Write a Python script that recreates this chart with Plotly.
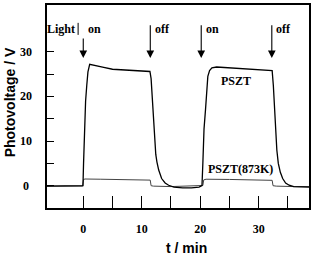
import plotly.graph_objects as go

# ---- data ----
pszt_t = [-6.2, -3.0, -0.05, 0.05, 0.2, 0.4, 0.6, 0.8, 1.1, 2.0, 3.5, 5.0, 8.0, 11.4,
          11.6, 11.8, 12.0, 12.2, 12.4, 12.6, 12.9, 13.4, 14.0, 14.6, 15.5, 17.0, 18.5,
          19.8, 20.3, 20.45, 20.65, 20.9, 21.1, 21.3, 21.6, 22.0, 22.8, 26.0, 30.0, 32.3,
          32.5, 32.7, 32.9, 33.1, 33.35, 33.7, 34.1, 34.6, 35.2, 36.0, 38.6]
pszt_v = [-0.1, -0.1, 0.0, 5.0, 13.0, 19.0, 22.5, 25.5, 27.2, 27.0, 26.5, 26.1, 25.9, 25.6,
          24.0, 20.0, 14.5, 10.0, 7.0, 5.3, 3.5, 1.6, 0.6, 0.1, -0.3, -0.5, -0.5,
          -0.3, 0.0, 5.0, 12.7, 17.0, 21.0, 24.5, 25.8, 26.4, 26.6, 26.3, 26.0, 25.8,
          22.5, 17.5, 12.7, 8.0, 5.0, 3.0, 1.6, 0.6, 0.1, -0.2, -0.3]

k873_t = [-6.2, -0.1, 0.05, 0.3, 3.0, 6.0, 9.0, 11.45, 11.6, 12.0, 15.0, 18.0, 20.45,
          20.6, 21.0, 25.0, 29.0, 32.3, 32.45, 33.0, 36.0, 38.6]
k873_v = [-0.1, -0.1, 1.4, 1.5, 1.45, 1.35, 1.3, 1.25, 0.0, -0.1, -0.2, -0.1, 0.05,
          1.3, 1.45, 1.4, 1.3, 1.2, 0.0, -0.1, -0.2, -0.2]

event_times = [0.0, 11.46, 20.17, 32.24]
event_labels = ["on", "off", "on", "off"]

x_ticks = [0, 5, 10, 15, 20, 25, 30, 35]
x_ticktext = ["0", "", "10", "", "20", "", "30", ""]
y_ticks = [0, 5, 10, 15, 20, 25, 30]
y_label_vals = [0, 10, 20, 30]
y_label_text = ["0", "10", "20", "30"]

SERIF = "Liberation Serif, Times New Roman, serif"
SANS = "Liberation Sans, Arial, sans-serif"
BOLD12 = dict(family=SERIF, size=12, color="black", weight="bold")

fig = go.Figure()
fig.add_trace(go.Scatter(x=k873_t, y=k873_v, mode="lines",
                         line=dict(color="#444444", width=1), showlegend=False))
fig.add_trace(go.Scatter(x=pszt_t, y=pszt_v, mode="lines",
                         line=dict(color="black", width=1.3), showlegend=False))

ann = []
for i, (t, lab) in enumerate(zip(event_times, event_labels)):
    top = 33.3 if i == 0 else 36.3
    ann.append(dict(x=t, y=28.6, ax=t, ay=top, xref="x", yref="y", axref="x", ayref="y",
                    text="", showarrow=True, arrowhead=2, arrowsize=1.4, arrowwidth=1.1,
                    arrowcolor="black"))
    ann.append(dict(x=t + 0.45, y=35.2, xref="x", yref="y", text=lab, showarrow=False,
                    xanchor="left", yanchor="middle", font=BOLD12))
ann.append(dict(x=-1.05, y=35.2, xref="x", yref="y", text="Light", showarrow=False,
                xanchor="right", yanchor="middle", font=BOLD12))
ann.append(dict(x=26.2, y=23.5, xref="x", yref="y", text="PSZT", showarrow=False,
                font=BOLD12))
ann.append(dict(x=26.9, y=3.8, xref="x", yref="y", text="PSZT(873K)", showarrow=False,
                font=BOLD12))
for v, lab in zip(y_label_vals, y_label_text):
    ann.append(dict(x=-0.0796, y=v, xref="paper", yref="y", text=lab, showarrow=False,
                    xanchor="center", yanchor="middle", font=BOLD12))
ann.append(dict(x=0.531, y=-0.195, xref="paper", yref="paper", text="t / min",
                showarrow=False, xanchor="center", yanchor="middle",
                font=dict(family=SANS, size=14, color="black", weight="bold")))
ann.append(dict(x=-0.140, y=0.522, xref="paper", yref="paper", text="Photovoltage / V",
                showarrow=False, xanchor="center", yanchor="middle", textangle=-90,
                font=dict(family=SANS, size=14, color="black", weight="bold")))

fig.update_layout(
    width=314, height=256,
    margin=dict(l=47, r=3, t=3, b=48),
    paper_bgcolor="white", plot_bgcolor="white",
    annotations=ann,
    shapes=[dict(type="line", xref="x", yref="y", x0=-0.88, x1=-0.88, y0=36.5, y1=33.8,
                 line=dict(color="black", width=1))],
    xaxis=dict(range=[-6.2, 38.6], tickvals=x_ticks, ticktext=x_ticktext,
               ticks="inside", ticklen=12, tickwidth=1.2, tickcolor="black",
               showline=True, linecolor="black", linewidth=1.5, mirror=True,
               showgrid=False, zeroline=False, ticklabelstandoff=9,
               tickfont=BOLD12),
    yaxis=dict(range=[-5, 40.5], tickvals=y_ticks, showticklabels=False,
               ticks="inside", ticklen=7, tickwidth=1.2, tickcolor="black",
               showline=True, linecolor="black", linewidth=1.5, mirror=True,
               showgrid=False, zeroline=False),
)

fig.write_html("out.html", config={"displayModeBar": False},
               post_script="document.body.style.margin='0';document.body.style.overflow='hidden';")
